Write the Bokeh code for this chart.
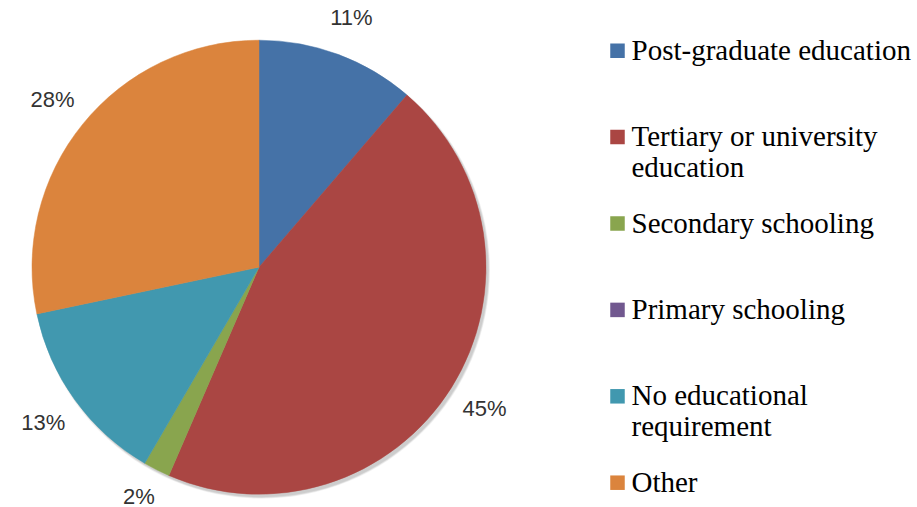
import math
from bokeh.plotting import figure
from bokeh.models import Range1d, ColumnDataSource
from bokeh.core.properties import value
from bokeh.embed import file_html
from bokeh.resources import INLINE

# ---- data ----
categories = ["Post-graduate education", "Tertiary or university\neducation",
              "Secondary schooling", "Primary schooling",
              "No educational\nrequirement", "Other"]
shares = [11.3, 45.2, 1.9, 0.0, 13.3, 28.3]
colors = ["#4572A7", "#AA4643", "#89A54E", "#71588F", "#4198AF", "#DB843D"]

W, H = 917, 507
p = figure(width=W, height=H, output_backend="svg", toolbar_location=None,
           x_range=Range1d(0, W), y_range=Range1d(0, H), min_border=0)
p.axis.visible = False
p.grid.visible = False
p.outline_line_color = None
p.background_fill_color = "white"
p.border_fill_color = "white"

cx, cy, R = 258.5, H - 266.7, 227.0
total = sum(shares)

# soft shadow
for k in range(4):
    p.circle(x=[cx + 2.5], y=[cy - 3], radius=R + 1.5 - k * 0.5,
             fill_color="#000000", fill_alpha=0.05, line_color=None)

starts, ends, cols, mids, labels = [], [], [], [], []
cum = 0.0
for s, c in zip(shares, colors):
    frac0 = cum / total
    cum += s
    frac1 = cum / total
    if s > 0:
        starts.append(math.pi / 2 - frac0 * 2 * math.pi)
        ends.append(math.pi / 2 - frac1 * 2 * math.pi)
        cols.append(c)
        mids.append(math.pi / 2 - (frac0 + frac1) * math.pi)
        labels.append(f"{round(s / total * 100)}%")

src = ColumnDataSource(dict(x=[cx] * len(starts), y=[cy] * len(starts),
                            start=starts, end=ends, color=cols))
p.wedge(x="x", y="y", radius=R, start_angle="start", end_angle="end",
        direction="clock", fill_color="color", line_color="color",
        line_width=0.5, source=src)

LR = 266
lx = [cx + LR * math.cos(a) for a in mids]
ly = [max(cy + LR * math.sin(a), 11.5) for a in mids]  # keep inside the page
p.text(x=lx, y=ly, text=labels, text_align="center", text_baseline="middle",
       text_font=value("Liberation Sans"), text_font_size="22px",
       text_color="#333333")

# ---- legend ----
leg_x, leg_top, leg_step, sq = 617.0, H - 50.2, 86.4, 14.5
sq_x, sq_y, sq_c = [], [], []
tx, ty, tt = [], [], []
for i, (name, c) in enumerate(zip(categories, colors)):
    yc = leg_top - i * leg_step
    sq_x.append(leg_x); sq_y.append(yc); sq_c.append(c)
    for j, line in enumerate(name.split("\n")):
        tx.append(leg_x + 14.0)
        ty.append(yc + 1 - j * 31)
        tt.append(line)
p.rect(x=sq_x, y=sq_y, width=sq, height=sq, fill_color=sq_c, line_color=None)
p.text(x=tx, y=ty, text=tt, text_align="left", text_baseline="alphabetic",
       text_font=value("Liberation Serif"), text_font_size="29px",
       text_color="#000000")

open("out.html", "w").write(file_html(p, INLINE))
